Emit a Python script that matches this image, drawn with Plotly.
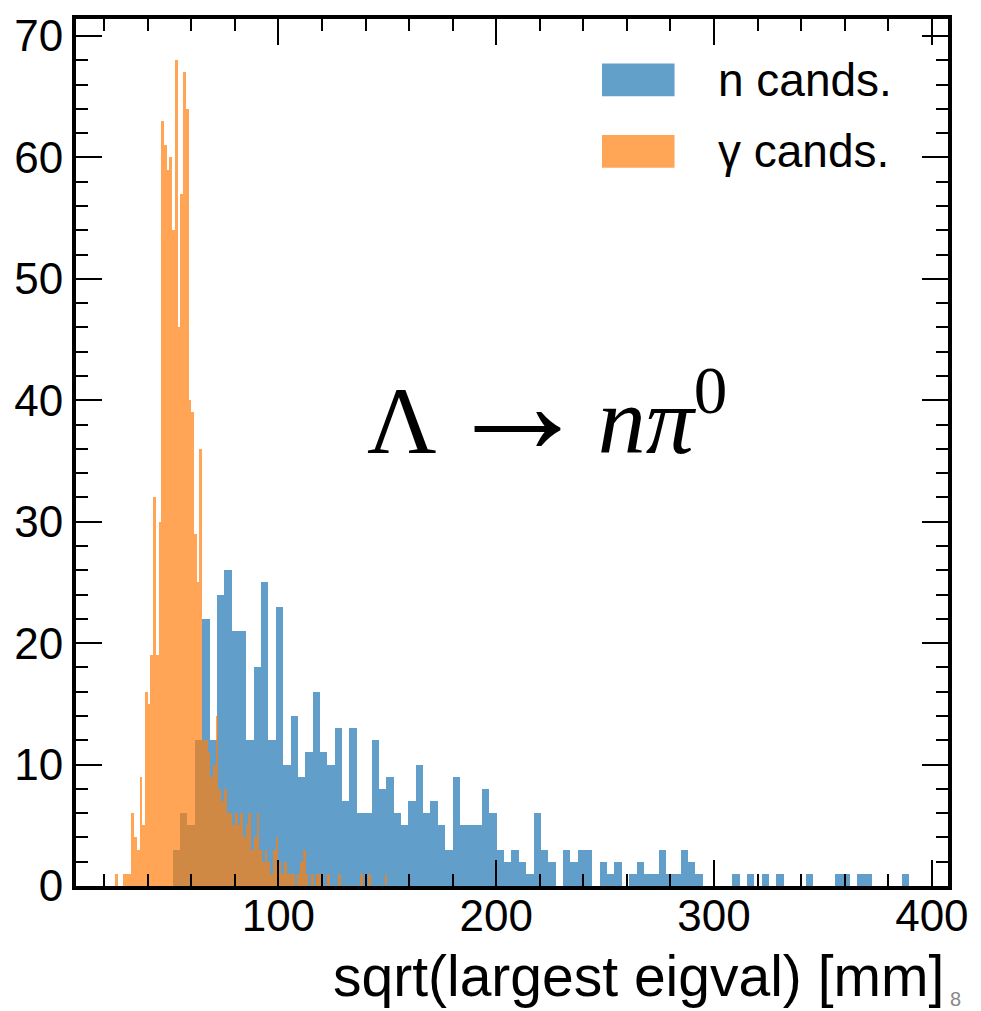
import numpy as np
import plotly.graph_objects as go

# ---------------- data ----------------
n_bin_lo, n_bin_hi = 51.5, 389.5
n_counts = [3, 6, 5, 12, 22, 12, 24, 26, 21, 21,
            12, 18, 25, 12, 23, 10, 14, 9, 11, 16,
            11, 10, 13, 7, 13, 6, 6, 12, 8, 9,
            6, 5, 7, 10, 6, 7, 5, 3, 9, 5,
            5, 5, 8, 6, 3, 2, 3, 2, 1, 6,
            3, 2, 0, 3, 2, 3, 3, 0, 2, 1,
            2, 0, 1, 2, 1, 1, 3, 1, 1, 3,
            2, 1, 0, 0, 0, 0, 1, 0, 1, 0,
            1, 0, 1, 0, 0, 0, 1, 0, 0, 0,
            1, 1, 0, 1, 1, 0, 0, 0, 0, 1]

g_bin_lo, g_bin_hi = 25.0, 150.0
g_counts = [1, 0, 0, 1, 1, 1, 6, 4, 3, 9,
            5, 16, 15, 19, 32, 19, 30, 63, 61, 59,
            60, 54, 68, 46, 57, 67, 64, 40, 39, 29,
            25, 36, 12, 12, 11, 9, 10, 14, 8, 7,
            8, 6, 6, 5, 6, 5, 6, 4, 5, 6,
            3, 4, 6, 3, 2, 3, 2, 1, 3, 4,
            2, 1, 2, 1, 1, 1, 0, 1, 2, 3,
            1, 0, 1, 0, 1, 1, 0, 0, 1, 0,
            0, 0, 1, 0, 0, 0, 0, 0, 0, 0,
            1, 0, 0, 1, 0, 0, 0, 0, 0, 1]

series_names = ["n cands.", "γ cands."]
x_ticks = [100, 200, 300, 400]
y_ticks = [0, 10, 20, 30, 40, 50, 60, 70]
x_title = "sqrt(largest eigval) [mm]"
page_number = "8"

# ---------------- build ----------------
def centers(lo, hi, counts):
    edges = np.linspace(lo, hi, len(counts) + 1)
    return (edges[:-1] + edges[1:]) / 2, edges[1] - edges[0]

nx, nw = centers(n_bin_lo, n_bin_hi, n_counts)
gx, gw = centers(g_bin_lo, g_bin_hi, g_counts)

BLUE = "#1f77b4"
ORANGE = "#ff7f0e"
FONT = "Liberation Sans, Arial, Helvetica, sans-serif"

fig = go.Figure()
fig.add_trace(go.Bar(x=nx, y=n_counts, width=nw, name=series_names[0],
                     marker=dict(color=BLUE, line=dict(width=0)), opacity=0.7))
fig.add_trace(go.Bar(x=gx, y=g_counts, width=gw, name=series_names[1],
                     marker=dict(color=ORANGE, line=dict(width=0)), opacity=0.7))

axis_common = dict(
    showgrid=False, zeroline=False, showline=True, linecolor="black", linewidth=4,
    mirror="allticks", ticks="inside", ticklen=26, tickwidth=2, tickcolor="black",
    tickfont=dict(family=FONT, size=44, color="black"),
)
fig.update_xaxes(range=[7.1, 407.4], tickmode="array", tickvals=x_ticks,
                 ticklabelstandoff=-12,
                 minor=dict(ticks="inside", ticklen=12, tickwidth=2, dtick=20,
                            tick0=0, tickcolor="black", showgrid=False),
                 **axis_common)
fig.update_yaxes(range=[0, 71.4], tickmode="array", tickvals=y_ticks,
                 minor=dict(ticks="inside", ticklen=12, tickwidth=2, dtick=2,
                            tick0=0, tickcolor="black", showgrid=False),
                 **axis_common)

# legend drawn as wide patches + text (matplotlib style)
leg_rows = [(0.911, 0.9487, BLUE, series_names[0]),
            (0.8285, 0.8663, ORANGE, series_names[1])]
shapes = []
annotations = []
for y0, y1, col, name in leg_rows:
    shapes.append(dict(type="rect", xref="paper", yref="paper",
                       x0=0.6032, x1=0.6864, y0=y0, y1=y1,
                       fillcolor=col, opacity=0.7, line=dict(width=0), layer="above"))
    annotations.append(dict(xref="paper", yref="paper", x=0.7343, y=(y0 + y1) / 2,
                            xanchor="left", yanchor="middle", showarrow=False,
                            text=name, font=dict(family=FONT, size=46, color="black")))

annot_text = ("Λ\u200a<span style='font-size:145px'>→</span>\u200a"
              "<i>nπ</i><sup>0</sup>")
annotations.append(dict(xref="paper", yref="paper", x=0.54, y=0.556,
                        xanchor="center", yanchor="middle", showarrow=False,
                        text=annot_text,
                        font=dict(family="Liberation Serif, DejaVu Serif, serif",
                                  size=96, color="black")))
annotations.append(dict(xref="paper", yref="paper", x=0.998, y=-0.104,
                        xanchor="right", yanchor="middle", showarrow=False,
                        text=x_title, font=dict(family=FONT, size=57, color="black")))
annotations.append(dict(xref="paper", yref="paper", x=1.0, y=-0.13,
                        xanchor="left", yanchor="middle", showarrow=False,
                        text=page_number, font=dict(family=FONT, size=20, color="#888888")))

fig.update_layout(
    width=981, height=1011,
    margin=dict(l=76, r=28, t=13, b=125),
    barmode="overlay", bargap=0,
    plot_bgcolor="white", paper_bgcolor="white",
    showlegend=False,
    shapes=shapes, annotations=annotations,
)

fig.write_html("out.html")
